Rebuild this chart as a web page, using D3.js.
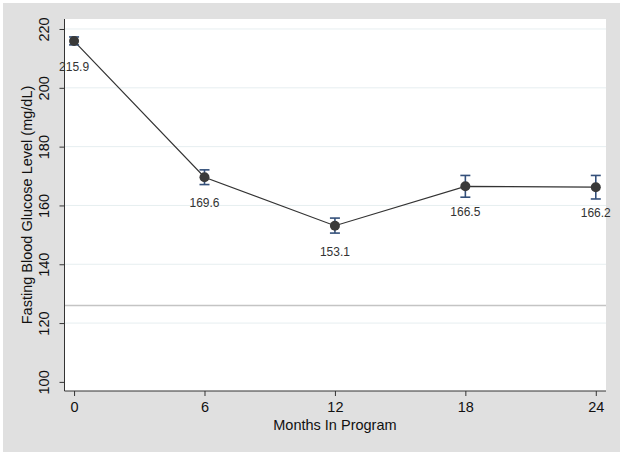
<!DOCTYPE html>
<html>
<head>
<meta charset="utf-8">
<script src="https://cdn.jsdelivr.net/npm/d3@7"></script>
<style>
  html, body { margin: 0; padding: 0; background: #ffffff; }
  svg { display: block; font-family: "Liberation Sans", Arial, Helvetica, sans-serif; }
</style>
</head>
<body>
<svg id="chart" width="625" height="457"></svg>
<script>
// ---- data ----
const months = [0, 6, 12, 18, 24];
const glucose = [215.9, 169.6, 153.1, 166.5, 166.2];
const ciLow = [214.6, 167.1, 150.6, 162.8, 162.2];
const ciHigh = [217.3, 172.1, 155.7, 170.2, 170.2];
const pointLabels = ["215.9", "169.6", "153.1", "166.5", "166.2"];
const xTicks = [0, 6, 12, 18, 24];
const yTicks = [100, 120, 140, 160, 180, 200, 220];
const refValue = 126;
const xTitle = "Months In Program";
const yTitle = "Fasting Blood Glucose Level (mg/dL)";

// ---- layout ----
const svg = d3.select("#chart");
const plot = { left: 64.5, right: 606, top: 19, bottom: 391 };

svg.append("rect").attr("x", 3).attr("y", 3).attr("width", 617).attr("height", 449)
  .attr("fill", "#e0e0e0");
svg.append("rect").attr("x", plot.left).attr("y", plot.top)
  .attr("width", plot.right - plot.left).attr("height", plot.bottom - plot.top)
  .attr("fill", "#ffffff");

const x = d3.scaleLinear().domain([-0.44, 24.47]).range([plot.left, plot.right]);
const y = d3.scaleLinear().domain([96.9, 223.4]).range([plot.bottom, plot.top]);

// gridlines
svg.append("g").selectAll("line").data(yTicks.filter(t => t > 100)).join("line")
  .attr("x1", plot.left).attr("x2", plot.right)
  .attr("y1", d => y(d)).attr("y2", d => y(d))
  .attr("stroke", "#e6eef0").attr("stroke-width", 1);

// reference line
svg.append("line")
  .attr("x1", plot.left).attr("x2", plot.right)
  .attr("y1", y(refValue)).attr("y2", y(refValue))
  .attr("stroke", "#c4c4c4").attr("stroke-width", 1.6);

// axes
const yAxis = d3.axisLeft(y).tickValues(yTicks).tickSize(5).tickPadding(4);
const gy = svg.append("g").attr("transform", `translate(${plot.left},0)`).call(yAxis);
gy.select(".domain").attr("d", `M0,${plot.top}V${plot.bottom}`).attr("stroke", "#333");
gy.selectAll(".tick line").attr("stroke", "#333");
gy.selectAll(".tick text")
  .attr("font-size", 14.5).attr("fill", "#111")
  .attr("transform", "rotate(-90)")
  .attr("x", 0).attr("y", -16)
  .attr("dy", 0)
  .attr("text-anchor", "middle");

const xAxis = d3.axisBottom(x).tickValues(xTicks).tickSize(5).tickPadding(4);
const gx = svg.append("g").attr("transform", `translate(0,${plot.bottom})`).call(xAxis);
gx.select(".domain").attr("d", `M${plot.left},0H${plot.right}`).attr("stroke", "#333");
gx.selectAll(".tick line").attr("stroke", "#333");
gx.selectAll(".tick text").attr("font-size", 14.5).attr("fill", "#111").attr("dy", "0.8em");

// titles
svg.append("text").attr("x", x(12)).attr("y", 430)
  .attr("text-anchor", "middle").attr("font-size", 14.5).attr("fill", "#111").text(xTitle);
svg.append("text")
  .attr("transform", `translate(32,${(plot.top + plot.bottom) / 2}) rotate(-90)`)
  .attr("text-anchor", "middle").attr("font-size", 14.5).attr("fill", "#111").text(yTitle);

// line
const line = d3.line().x((d, i) => x(months[i])).y(d => y(d));
svg.append("path").datum(glucose).attr("d", line)
  .attr("fill", "none").attr("stroke", "#333").attr("stroke-width", 1.2);

// error bars
const eb = svg.append("g").attr("stroke", "#34507a").attr("stroke-width", 1.6);
months.forEach((m, i) => {
  const cx = x(m);
  eb.append("line").attr("x1", cx).attr("x2", cx).attr("y1", y(ciLow[i])).attr("y2", y(ciHigh[i]));
  eb.append("line").attr("x1", cx - 5).attr("x2", cx + 5).attr("y1", y(ciLow[i])).attr("y2", y(ciLow[i]));
  eb.append("line").attr("x1", cx - 5).attr("x2", cx + 5).attr("y1", y(ciHigh[i])).attr("y2", y(ciHigh[i]));
});

// markers
svg.append("g").selectAll("circle").data(glucose).join("circle")
  .attr("cx", (d, i) => x(months[i])).attr("cy", d => y(d)).attr("r", 5)
  .attr("fill", "#3a3a3a");

// point labels
svg.append("g").selectAll("text").data(glucose).join("text")
  .attr("x", (d, i) => x(months[i])).attr("y", (d, i) => y(d) + 30)
  .attr("text-anchor", "middle").attr("font-size", 12).attr("fill", "#333")
  .text((d, i) => pointLabels[i]);
</script>
</body>
</html>
